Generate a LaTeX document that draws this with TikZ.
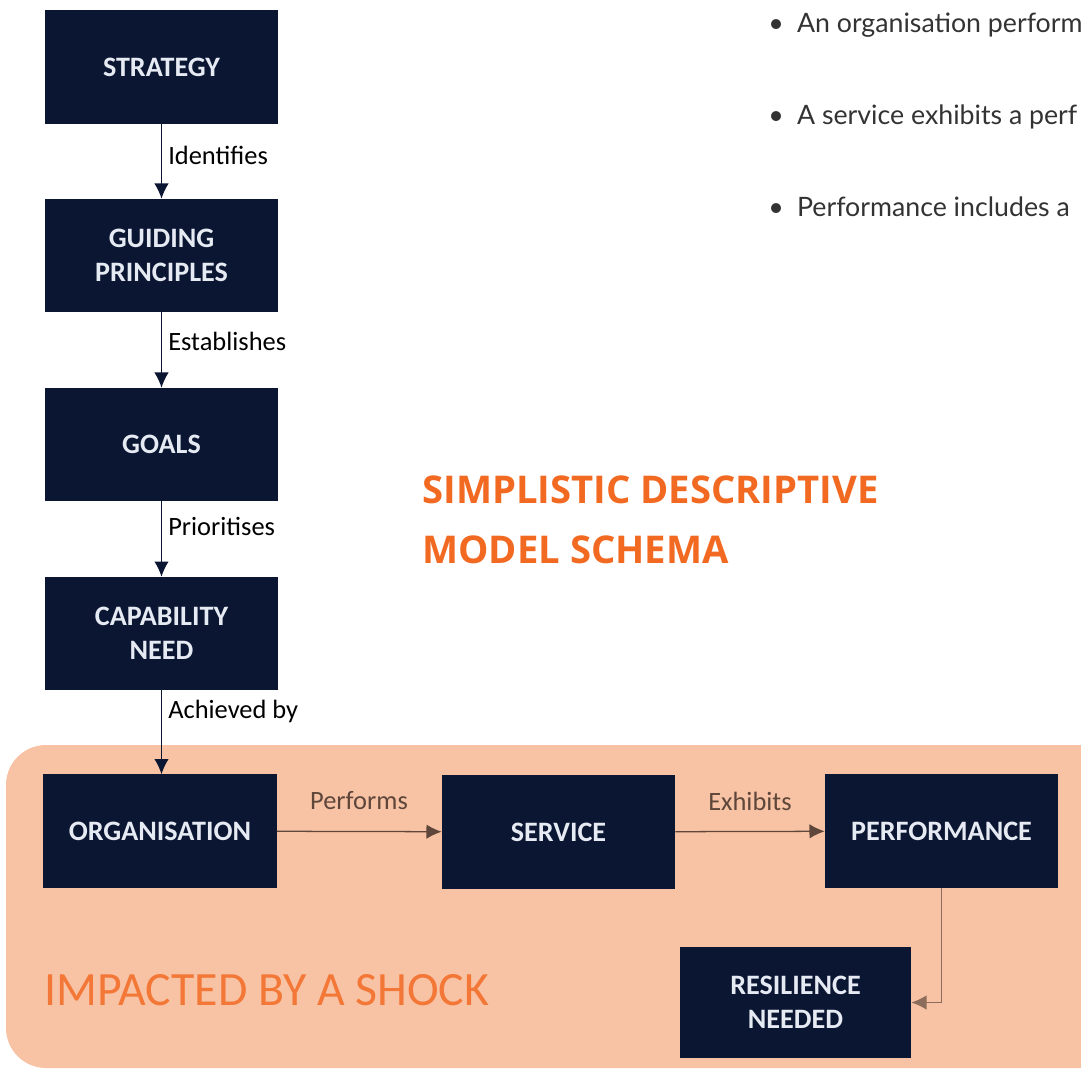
\documentclass[tikz,border=0pt]{standalone}
\usepackage{fontspec}
\setmainfont{Carlito}
\newfontfamily\latofont{Lato}
\newfontfamily\headfont{Open Sans}
\usetikzlibrary{arrows.meta}

\definecolor{navy}{HTML}{0B1633}
\definecolor{peach}{HTML}{F8C3A4}
\definecolor{shock}{HTML}{F26A22}
\definecolor{linkbrown}{HTML}{5E463A}
\definecolor{boxtext}{HTML}{E6EAF2}

\tikzset{
  block/.style={fill=navy, text=boxtext, minimum width=5.825cm, minimum height=2.825cm,
    inner sep=0pt, align=center, font=\fontsize{20}{24}\selectfont\bfseries},
  lbl/.style={font=\fontsize{18.8}{22}\selectfont, inner sep=0pt},
  link/.style={-{Latex[length=0.38cm,width=0.36cm]}, navy, line width=0.9pt},
  inlink/.style={-{Latex[length=0.38cm,width=0.36cm]}, linkbrown, line width=0.9pt},
  bullet/.style={anchor=base west, inner sep=0pt, text=black!80,
    font=\latofont\fontsize{19}{22}\selectfont}
}

\begin{document}
\begin{tikzpicture}[x=0.025cm, y=-0.025cm]
\useasboundingbox (0,0) rectangle (1081,1070);
\clip (0,0) rectangle (1081,1070);

% shaded area
\fill[peach, rounded corners=1cm] (6,745) rectangle (1120,1068);

% left column
\node[block] (strat) at (161.5,67) {STRATEGY};
\node[block] (guide) at (161.5,255.5) {GUIDING\\PRINCIPLES};
\node[block] (goals) at (161.5,444.5) {GOALS};
\node[block] (cap) at (161.5,633.5) {CAPABILITY\\NEED};

% bottom row
\node[block] (org) at (160,831) {ORGANISATION};
\node[block] (serv) at (558.5,832) {SERVICE};
\node[block] (perf) at (941.5,831) {PERFORMANCE};
\node[block, minimum width=5.775cm, minimum height=2.775cm] (res) at (795.5,1002.5) {RESILIENCE\\NEEDED};

\draw[link] (strat) -- (guide);
\draw[link] (guide) -- (goals);
\draw[link] (goals) -- (cap);
\draw[link] (cap.south) -- (cap.south |- org.north);
\draw[inlink] (org) -- (serv);
\draw[inlink] (serv) -- (perf);
\draw[inlink, linkbrown!70!peach] (perf.south) |- (res.east);

\node[lbl, anchor=west] (l1) at (168,155) {Identifies};
\node[lbl, anchor=west] (l2) at (168,341) {Establishes};
\node[lbl, anchor=west] (l3) at (168,526) {Prioritises};
\node[lbl, anchor=west] (l4) at (168,711) {Achieved by};
\node[lbl, text=linkbrown] (l5) at (359,801) {Performs};
\node[lbl, text=linkbrown] (l6) at (750,801) {Exhibits};

% headings
\node[anchor=base west, inner sep=0pt, text=shock, font=\headfont\bfseries\fontsize{27.2}{30}\selectfont] (t1) at (422,503) {SIMPLISTIC DESCRIPTIVE};
\node[anchor=base west, inner sep=0pt, text=shock, font=\headfont\bfseries\fontsize{27.2}{30}\selectfont] (t2) at (422,563) {MODEL SCHEMA};
\node[anchor=base west, inner sep=0pt, text=shock!85!peach, font=\fontsize{34}{40}\selectfont] (shock) at (44,1005) {IMPACTED BY A SHOCK};

% notes
\node[bullet] (b1) at (768,33) {\makebox[0.72cm][l]{\textbullet}An organisation perform};
\node[bullet] (b2) at (768,125) {\makebox[0.72cm][l]{\textbullet}A service exhibits a perf};
\node[bullet] (b3) at (768,217) {\makebox[0.72cm][l]{\textbullet}Performance includes a};
\end{tikzpicture}
\end{document}
